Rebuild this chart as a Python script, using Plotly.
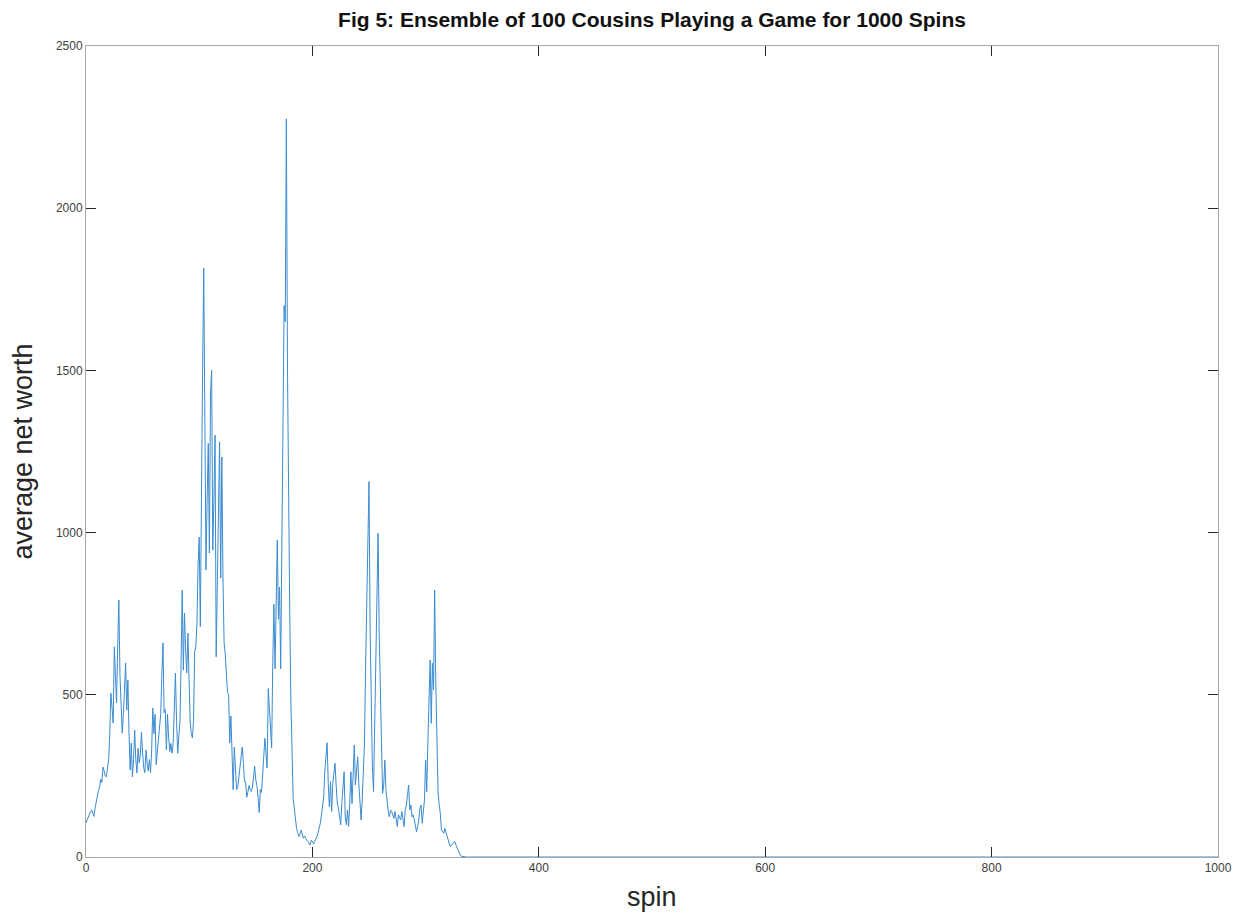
import plotly.graph_objects as go

# Ensemble-average net worth for spins 0..333 (after that every cousin is broke)
active_worth = [
    105, 115, 125, 130, 140, 145, 135, 125, 150, 170,
    190, 205, 215, 240, 230, 277, 265, 250, 247, 280,
    300, 380, 505, 460, 413, 648, 560, 475, 650, 792,
    560, 432, 382, 440, 520, 598, 453, 545, 380, 268,
    351, 247, 300, 391, 300, 259, 335, 290, 315, 385,
    320, 275, 260, 330, 290, 265, 300, 260, 330, 459,
    380, 440, 285, 330, 375, 400, 440, 560, 660, 445,
    455, 330, 440, 370, 325, 350, 320, 350, 455, 567,
    420, 320, 370, 420, 600, 823, 576, 752, 640, 567,
    690, 515, 420, 380, 367, 420, 632, 648, 720, 900,
    986, 710, 1264, 1500, 1815, 1255, 885, 1100, 1275, 937,
    1430, 1500, 946, 1100, 1300, 617, 840, 968, 1280, 860,
    1233, 860, 660, 626, 566, 507, 500, 351, 435, 315,
    208, 339, 244, 208, 214, 250, 280, 310, 339, 292,
    232, 232, 184, 200, 220, 208, 202, 215, 244, 280,
    237, 220, 184, 137, 208, 199, 250, 310, 366, 320,
    275, 519, 450, 382, 336, 600, 779, 580, 800, 977,
    733, 832, 580, 900, 1267, 1700, 1650, 2275, 1500, 1050,
    750, 480, 300, 180, 150, 110, 88, 75, 63, 70,
    83, 70, 58, 65, 55, 52, 48, 42, 37, 52,
    48, 40, 47, 55, 63, 75, 90, 104, 130, 160,
    186, 268, 300, 352, 227, 155, 232, 140, 227, 268,
    289, 220, 165, 150, 120, 99, 165, 220, 263, 124,
    99, 145, 94, 165, 263, 165, 268, 345, 222, 270,
    309, 227, 171, 114, 176, 260, 350, 587, 792, 1049,
    1157, 700, 433, 278, 201, 412, 600, 800, 998, 690,
    515, 330, 196, 222, 299, 206, 160, 140, 124, 145,
    140, 130, 119, 140, 110, 94, 130, 120, 114, 140,
    110, 94, 145, 160, 190, 222, 145, 160, 124, 130,
    115, 99, 78, 95, 114, 150, 160, 104, 140, 176,
    299, 201, 350, 480, 607, 412, 597, 515, 823, 535,
    330, 201, 160, 135, 83, 78, 73, 88, 75, 63,
    47, 40, 32, 38, 42, 45, 47, 35, 27, 15,
    6, 3, 2, 1,
]
n_spins = 1000
broke_worth = [0.0] * (n_spins + 1 - len(active_worth))
worth = active_worth + broke_worth
spins = list(range(n_spins + 1))

x_ticks = [0, 200, 400, 600, 800, 1000]
y_ticks = [0, 500, 1000, 1500, 2000, 2500]

fig = go.Figure()
fig.add_trace(go.Scatter(
    x=spins, y=worth, mode="lines",
    line=dict(color="#3a8bd0", width=1),
    showlegend=False, hoverinfo="x+y",
))

axis_common = dict(
    showgrid=False, zeroline=False, automargin=False,
    showline=True, linecolor="#a6a6a6", linewidth=1,
    mirror="ticks", ticks="inside", ticklen=10, tickwidth=1,
    tickcolor="#262626",
    tickfont=dict(family="Liberation Sans, Arial, sans-serif", size=12, color="#404040"),
)
label_font = dict(family="Liberation Sans, Arial, sans-serif", size=27, color="#262626")

fig.update_layout(
    width=1241, height=913,
    paper_bgcolor="white", plot_bgcolor="white",
    margin=dict(l=86, r=23, t=46, b=56),
    title=dict(
        text="<b>Fig 5: Ensemble of 100 Cousins Playing a Game for 1000 Spins</b>",
        x=0.5, xanchor="center", xref="paper",
        y=0.978, yanchor="middle",
        font=dict(family="Liberation Sans Narrow, Liberation Sans, Arial, sans-serif",
                  size=21, color="#111111"),
    ),
    xaxis=dict(range=[0, 1000], tickvals=x_ticks, **axis_common),
    yaxis=dict(range=[0, 2500], tickvals=y_ticks, **axis_common),
    annotations=[
        dict(text="spin", xref="paper", yref="paper", x=0.5, y=-0.049,
             xanchor="center", yanchor="middle", showarrow=False, font=label_font),
        dict(text="average net worth", xref="paper", yref="paper", x=-0.0565, y=0.5,
             xanchor="center", yanchor="middle", textangle=-90, showarrow=False,
             font=label_font),
    ],
)

fig.write_html("out.html")
